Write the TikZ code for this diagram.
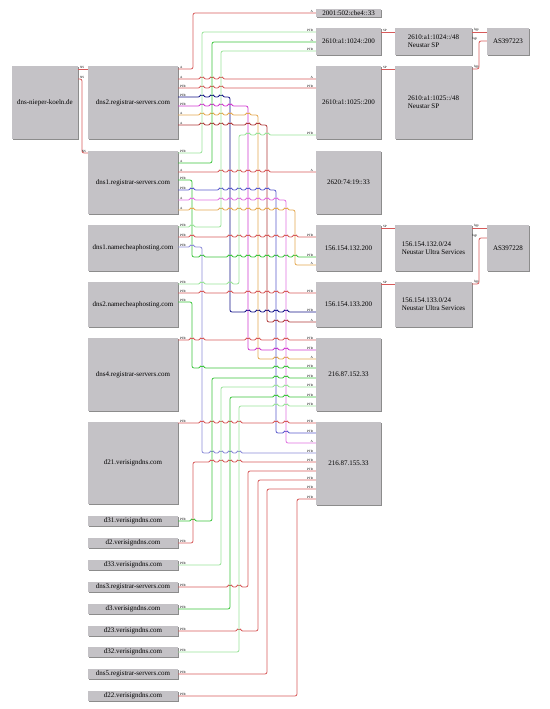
\documentclass[tikz,border=0pt]{standalone}
\usepackage{fontspec}
\setmainfont{Liberation Serif}
\usetikzlibrary{shadows}
\definecolor{boxgray}{HTML}{C4C2C6}
\definecolor{wred}{HTML}{D65A5A}
\definecolor{wdred}{HTML}{B03A3A}
\definecolor{wgreen}{HTML}{3CC43C}
\definecolor{wlgreen}{HTML}{98E298}
\definecolor{wnavy}{HTML}{141488}
\definecolor{wblue}{HTML}{5A5ACC}
\definecolor{wlav}{HTML}{8C8CD8}
\definecolor{wmag}{HTML}{D038D0}
\definecolor{wpink}{HTML}{E070E0}
\definecolor{worange}{HTML}{E4A850}

\begin{document}
\begin{tikzpicture}[
  x=1pt,
  y=-1pt,
  line join=round,
  box/.style={fill=boxgray,inner sep=1pt,font=\fontsize{7}{8}\selectfont,
    drop shadow={shadow xshift=1.2pt,shadow yshift=-1.2pt,opacity=1,fill=black!45}},
  wire/.style={draw=#1,line width=0.8pt,rounded corners=2},
  tlab/.style={anchor=south west,inner sep=0.4pt,xshift=1pt,font=\fontsize{3.2}{3.2}\selectfont},
  hlab/.style={anchor=south east,inner sep=0.4pt,xshift=-2pt,font=\fontsize{3.2}{3.2}\selectfont},
  hop/.style={start angle=180,end angle=360,radius=1.7}
]
  \useasboundingbox (0,0) rectangle (549,709);

  % Zone and its name servers.
  \node[box,minimum width=66,minimum height=73] (nieper) at (45,102.5) {dns-nieper-koeln.de};
  \node[box,minimum width=90,minimum height=73] (rs2) at (133,102.5) {dns2.registrar-servers.com};
  \node[box,minimum width=90,minimum height=63] (rs1) at (133,182.5) {dns1.registrar-servers.com};
  \node[box,minimum width=90,minimum height=46] (nc1) at (133,248) {dns1.namecheaphosting.com};
  \node[box,minimum width=90,minimum height=45] (nc2) at (133,304.5) {dns2.namecheaphosting.com};
  \node[box,minimum width=90,minimum height=73] (rs4) at (133,374.5) {dns4.registrar-servers.com};
  \node[box,minimum width=90,minimum height=82] (d21) at (133,463) {d21.verisigndns.com};
  \node[box,minimum width=90,minimum height=10] (d31) at (133,521) {d31.verisigndns.com};
  \node[box,minimum width=90,minimum height=10] (d2) at (133,543) {d2.verisigndns.com};
  \node[box,minimum width=90,minimum height=10] (d33) at (133,565) {d33.verisigndns.com};
  \node[box,minimum width=90,minimum height=10] (rs3) at (133,587) {dns3.registrar-servers.com};
  \node[box,minimum width=90,minimum height=10] (d3) at (133,609) {d3.verisigndns.com};
  \node[box,minimum width=90,minimum height=10] (d23) at (133,631) {d23.verisigndns.com};
  \node[box,minimum width=90,minimum height=10] (d32) at (133,652) {d32.verisigndns.com};
  \node[box,minimum width=90,minimum height=10] (rs5) at (133,674) {dns5.registrar-servers.com};
  \node[box,minimum width=90,minimum height=10] (d22) at (133,696) {d22.verisigndns.com};

  % Addresses, prefixes and origin AS.
  \node[box,minimum width=65,minimum height=8,inner sep=0pt] (ipcbe) at (348.5,13) {2001:502:cbe4::33};
  \node[box,minimum width=65,minimum height=27] (ip1024) at (348.5,41.5) {2610:a1:1024::200};
  \node[box,minimum width=65,minimum height=73] (ip1025) at (348.5,102.5) {2610:a1:1025::200};
  \node[box,minimum width=65,minimum height=63] (ip2620) at (348.5,182.5) {2620:74:19::33};
  \node[box,minimum width=65,minimum height=46] (ip132) at (348.5,248) {156.154.132.200};
  \node[box,minimum width=65,minimum height=45] (ip133) at (348.5,304.5) {156.154.133.200};
  \node[box,minimum width=65,minimum height=73] (ip152) at (348.5,374.5) {216.87.152.33};
  \node[box,minimum width=65,minimum height=83] (ip155) at (348.5,463.5) {216.87.155.33};
  \node[box,minimum width=77,minimum height=27,align=left] (pfx1024) at (433.5,41.5) {2610:a1:1024::/48\\Neustar SP};
  \node[box,minimum width=77,minimum height=73,align=left] (pfx1025) at (433.5,102.5) {2610:a1:1025::/48\\Neustar SP};
  \node[box,minimum width=77,minimum height=46,align=left] (pfx132) at (433.5,248) {156.154.132.0/24\\Neustar Ultra Services};
  \node[box,minimum width=77,minimum height=45,align=left] (pfx133) at (433.5,304.5) {156.154.133.0/24\\Neustar Ultra Services};
  \node[box,minimum width=42,minimum height=27] (as223) at (508,41.5) {AS397223};
  \node[box,minimum width=42,minimum height=46] (as228) at (508,248) {AS397228};

  % Delegation.
  \draw[wire=wred] (nieper.east |- 0,69) node[tlab]{NS} -- (rs2.west |- 0,69);
  \draw[wire=wred] (nieper.east |- 0,79) node[tlab]{NS} -- (82,79) -- (82,153)
    -- (rs1.west |- 0,153) node[hlab,xshift=1pt]{NS};

  % dns2.registrar-servers.com
  \draw[wire=wred] (rs2.east |- 0,69) node[tlab]{A} -- (193,69) -- (193,13)
    -- (ipcbe.west |- 0,13) node[hlab]{A};
  \draw[wire=wred] (rs2.east |- 0,79) node[tlab]{A}
    \foreach \h in {202,212,221} {-- (\h-1.7,79) arc[hop]}
    -- (ip1025.west |- 0,79) node[hlab]{A};
  \draw[wire=wred] (rs2.east |- 0,88) node[tlab]{PTR}
    \foreach \h in {202,212,221} {-- (\h-1.7,88) arc[hop]}
    -- (ip1025.west |- 0,88) node[hlab]{PTR};
  \draw[wire=wnavy] (rs2.east |- 0,97) node[tlab]{PTR}
    \foreach \h in {202,212,221} {-- (\h-1.7,97) arc[hop]} -- (230,97) -- (230,312)
    \foreach \h in {248,258,267,276,286} {-- (\h-1.7,312) arc[hop]}
    -- (ip133.west |- 0,312) node[hlab]{PTR};
  \draw[wire=wmag] (rs2.east |- 0,106) node[tlab]{PTR}
    \foreach \h in {202,212,221,230} {-- (\h-1.7,106) arc[hop]} -- (248,106) -- (248,350)
    \foreach \h in {258,276,286} {-- (\h-1.7,350) arc[hop]}
    -- (ip152.west |- 0,350) node[hlab]{PTR};
  \draw[wire=worange] (rs2.east |- 0,115) node[tlab]{A}
    \foreach \h in {202,212,221,230,248} {-- (\h-1.7,115) arc[hop]} -- (258,115) -- (258,359)
    \foreach \h in {276,286} {-- (\h-1.7,359) arc[hop]}
    -- (ip152.west |- 0,359) node[hlab]{A};
  \draw[wire=wdred] (rs2.east |- 0,125) node[tlab]{A}
    \foreach \h in {202,212,221,230,248,258} {-- (\h-1.7,125) arc[hop]} -- (267,125) -- (267,322)
    \foreach \h in {276,286} {-- (\h-1.7,322) arc[hop]}
    -- (ip133.west |- 0,322) node[hlab]{A};

  % dns1.registrar-servers.com
  \draw[wire=wlgreen] (rs1.east |- 0,153) node[tlab]{PTR} -- (202,153) -- (202,32)
    -- (ip1024.west |- 0,32) node[hlab]{PTR};
  \draw[wire=wgreen] (rs1.east |- 0,163) node[tlab]{A} -- (212,163) -- (212,42)
    -- (ip1024.west |- 0,42) node[hlab]{A};
  \draw[wire=wred] (rs1.east |- 0,172) node[tlab]{A}
    \foreach \h in {221,230,239,248,258,267} {-- (\h-1.7,172) arc[hop]}
    -- (ip2620.west |- 0,172) node[hlab]{A};
  \draw[wire=wgreen] (rs1.east |- 0,180) node[tlab]{PTR} -- (192,180) -- (192,257)
    \foreach \h in {202,230,239,248,258,267,276,286,295} {-- (\h-1.7,257) arc[hop]}
    -- (ip132.west |- 0,257) node[hlab]{PTR};
  \draw[wire=wblue] (rs1.east |- 0,190) node[tlab]{PTR}
    \foreach \h in {192,221,230,239,248,258,267} {-- (\h-1.7,190) arc[hop]} -- (276,190) -- (276,433)
    \foreach \h in {286} {-- (\h-1.7,433) arc[hop]}
    -- (ip155.west |- 0,433) node[hlab]{PTR};
  \draw[wire=wpink] (rs1.east |- 0,200) node[tlab]{A}
    \foreach \h in {192,221,230,239,248,258,267,276} {-- (\h-1.7,200) arc[hop]} -- (286,200) -- (286,443)
    -- (ip155.west |- 0,443) node[hlab]{A};
  \draw[wire=worange] (rs1.east |- 0,210) node[tlab]{A}
    \foreach \h in {192,221,230,239,248,258,267,276,286} {-- (\h-1.7,210) arc[hop]} -- (295,210) -- (295,265)
    -- (ip132.west |- 0,265) node[hlab]{A};

  % dns1.namecheaphosting.com
  \draw[wire=wlgreen] (nc1.east |- 0,227) node[tlab]{PTR}
    \foreach \h in {192} {-- (\h-1.7,227) arc[hop]} -- (221,227) -- (221,51)
    -- (ip1024.west |- 0,51) node[hlab]{PTR};
  \draw[wire=wred] (nc1.east |- 0,237) node[tlab]{PTR}
    \foreach \h in {192,230,239,248,258,267,276,286,295} {-- (\h-1.7,237) arc[hop]}
    -- (ip132.west |- 0,237) node[hlab]{PTR};
  \draw[wire=wlav] (nc1.east |- 0,247) node[tlab]{PTR}
    \foreach \h in {192} {-- (\h-1.7,247) arc[hop]} -- (202,247) -- (202,453)
    \foreach \h in {212,221,230,239} {-- (\h-1.7,453) arc[hop]}
    -- (ip155.west |- 0,453) node[hlab]{PTR};

  % dns2.namecheaphosting.com
  \draw[wire=wlgreen] (nc2.east |- 0,284) node[tlab]{PTR}
    \foreach \h in {202,230} {-- (\h-1.7,284) arc[hop]} -- (239,284) -- (239,135)
    \foreach \h in {248,258,267} {-- (\h-1.7,135) arc[hop]}
    -- (ip1025.west |- 0,135) node[hlab]{PTR};
  \draw[wire=wred] (nc2.east |- 0,293) node[tlab]{PTR}
    \foreach \h in {202,230,248,258,267,276,286} {-- (\h-1.7,293) arc[hop]}
    -- (ip133.west |- 0,293) node[hlab]{PTR};
  \draw[wire=wgreen] (nc2.east |- 0,302) node[tlab]{PTR} -- (192,302) -- (192,368)
    \foreach \h in {202,276,286} {-- (\h-1.7,368) arc[hop]}
    -- (ip152.west |- 0,368) node[hlab]{PTR};

  % dns4.registrar-servers.com and d21.verisigndns.com
  \draw[wire=wred] (rs4.east |- 0,340) node[tlab]{PTR}
    \foreach \h in {192,202,248,258,276,286} {-- (\h-1.7,340) arc[hop]}
    -- (ip152.west |- 0,340) node[hlab]{PTR};
  \draw[wire=wred] (d21.east |- 0,423) node[tlab]{PTR}
    \foreach \h in {202,212,221,230,239,276,286} {-- (\h-1.7,423) arc[hop]}
    -- (ip155.west |- 0,423) node[hlab]{PTR};

  % Remaining PTR records.
  \draw[wire=wgreen] (d31.east) node[tlab]{PTR}
    \foreach \h in {193} {-- (\h-1.7,521) arc[hop]} -- (212,521) -- (212,378)
    \foreach \h in {276,286} {-- (\h-1.7,378) arc[hop]}
    -- (ip152.west |- 0,378) node[hlab]{PTR};
  \draw[wire=wred] (d2.east) node[tlab]{PTR} -- (193,543) -- (193,462)
    \foreach \h in {212,221,230,239} {-- (\h-1.7,462) arc[hop]}
    -- (ip155.west |- 0,462) node[hlab]{PTR};
  \draw[wire=wlgreen] (d33.east) node[tlab]{PTR} -- (221,565) -- (221,387)
    \foreach \h in {276,286} {-- (\h-1.7,387) arc[hop]}
    -- (ip152.west |- 0,387) node[hlab]{PTR};
  \draw[wire=wred] (rs3.east) node[tlab]{PTR}
    \foreach \h in {230,239} {-- (\h-1.7,587) arc[hop]} -- (248,587) -- (248,471)
    -- (ip155.west |- 0,471) node[hlab]{PTR};
  \draw[wire=wgreen] (d3.east) node[tlab]{PTR} -- (230,609) -- (230,397)
    \foreach \h in {276,286} {-- (\h-1.7,397) arc[hop]}
    -- (ip152.west |- 0,397) node[hlab]{PTR};
  \draw[wire=wred] (d23.east) node[tlab]{PTR}
    \foreach \h in {239} {-- (\h-1.7,631) arc[hop]} -- (258,631) -- (258,480)
    -- (ip155.west |- 0,480) node[hlab]{PTR};
  \draw[wire=wlgreen] (d32.east) node[tlab]{PTR} -- (239,652) -- (239,406)
    \foreach \h in {276,286} {-- (\h-1.7,406) arc[hop]}
    -- (ip152.west |- 0,406) node[hlab]{PTR};
  \draw[wire=wred] (rs5.east) node[tlab]{PTR} -- (267,674) -- (267,489)
    -- (ip155.west |- 0,489) node[hlab]{PTR};
  \draw[wire=wred] (d22.east) node[tlab]{PTR} -- (297,696) -- (297,499)
    -- (ip155.west |- 0,499) node[hlab]{PTR};

  % Routing.
  \draw[wire=wred] (ip1024.east |- 0,32) node[tlab]{SP} -- (pfx1024.west |- 0,32);
  \draw[wire=wred] (ip1025.east |- 0,69) node[tlab]{SP} -- (pfx1025.west |- 0,69);
  \draw[wire=wred] (ip132.east |- 0,228) node[tlab]{SP} -- (pfx132.west |- 0,228);
  \draw[wire=wred] (ip133.east |- 0,284) node[tlab]{SP} -- (pfx133.west |- 0,284);
  \draw[wire=wred] (pfx1024.east |- 0,32) node[tlab]{bgp} -- (as223.west |- 0,32);
  \draw[wire=wred] (pfx1025.east |- 0,69) node[tlab]{bgp} -- (479,69) -- (479,41)
    node[hlab,xshift=1pt]{bgp} -- (as223.west |- 0,41);
  \draw[wire=wred] (pfx132.east |- 0,228) node[tlab]{bgp} -- (as228.west |- 0,228);
  \draw[wire=wred] (pfx133.east |- 0,284) node[tlab]{bgp} -- (479,284) -- (479,238)
    node[hlab,xshift=1pt]{bgp} -- (as228.west |- 0,238);
\end{tikzpicture}
\end{document}
